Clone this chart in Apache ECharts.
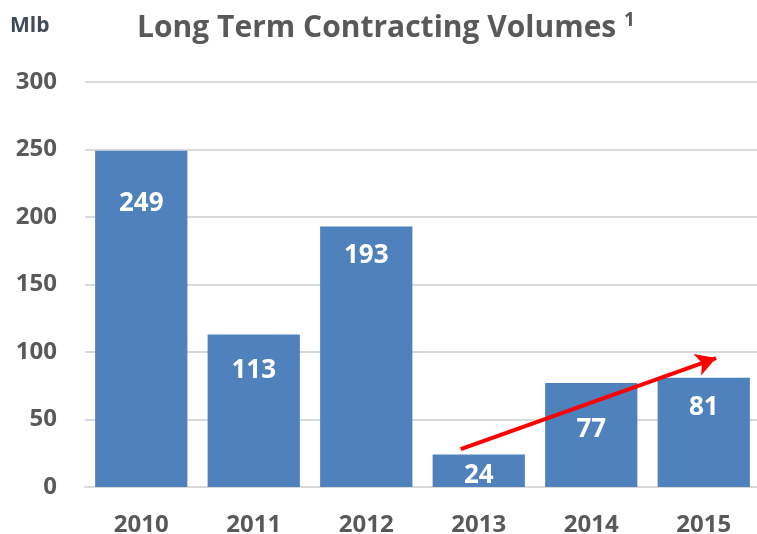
<!DOCTYPE html>
<html>
<head>
<meta charset="utf-8">
<script src="https://cdn.jsdelivr.net/npm/echarts@6/dist/echarts.min.js"></script>
<style>
  html, body { margin: 0; padding: 0; background: #fff; }
  #chart { width: 757px; height: 534px; }
</style>
</head>
<body>
<div id="chart"></div>
<script>
const years = ['2010', '2011', '2012', '2013', '2014', '2015']
const volumes = [249, 113, 193, 24, 77, 81]
const yTicks = { min: 0, max: 300, step: 50 }
// how far each value label sits below its bar top (it varies in the original)
const labelGaps = [40, 23, 16, 8, 34, 17]
// trend arrow, in (category position, Mlb)
const arrowFrom = [2.84, 28]
const arrowTo = [5.11, 95.5]

const myChart = echarts.init(document.getElementById('chart'))

const option = {
    backgroundColor: '#fff',
    animation: false,
    title: {
        text: 'Long Term Contracting Volumes {sup|1}',
        left: 381,
        textAlign: 'center',
        top: 6,
        textStyle: {
            fontFamily: 'Open Sans',
            fontSize: 30,
            fontWeight: 'bold',
            color: '#595959',
            rich: {
                sup: {
                    fontFamily: 'Open Sans',
                    fontSize: 19,
                    fontWeight: 'bold',
                    color: '#595959',
                    verticalAlign: 'top',
                    padding: [0, 0, 16, 0]
                }
            }
        }
    },
    graphic: [{
        type: 'text',
        left: 10,
        top: 16,
        style: {
            text: 'Mlb',
            font: 'bold 21px "Open Sans"',
            fill: '#3f4b58'
        }
    }],
    grid: { left: 85, right: -3, top: 82, bottom: 47, outerBoundsMode: 'none', containLabel: false },
    xAxis: [{
        type: 'category',
        data: years,
        axisTick: { show: false },
        axisLine: { lineStyle: { color: '#d9d9d9', width: 2 } },
        axisLabel: {
            fontFamily: 'Open Sans',
            fontSize: 24,
            fontWeight: 'bold',
            color: '#595959',
            margin: 26
        }
    }, {
        type: 'value',
        min: -0.5,
        max: 5.5,
        show: false
    }],
    yAxis: {
        type: 'value',
        min: yTicks.min,
        max: yTicks.max,
        interval: yTicks.step,
        axisLine: { show: false },
        axisTick: { show: false },
        splitLine: { lineStyle: { color: '#d9d9d9', width: 2 } },
        axisLabel: {
            fontFamily: 'Open Sans',
            fontSize: 24,
            fontWeight: 'bold',
            color: '#595959',
            margin: 28
        }
    },
    series: [{
        type: 'bar',
        data: volumes.map((v, i) => ({ value: v, label: { distance: labelGaps[i] } })),
        barCategoryGap: '18%',
        itemStyle: { color: '#4f81bd' },
        label: {
            show: true,
            position: 'insideTop',
            fontFamily: 'Open Sans',
            fontSize: 26,
            fontWeight: 'bold',
            color: '#fff'
        }
    }, {
        type: 'line',
        xAxisIndex: 1,
        data: [],
        markLine: {
            silent: true,
            symbol: ['none', 'arrow'],
            symbolSize: [17, 20],
            label: { show: false },
            lineStyle: { color: '#ff0000', width: 4, type: 'solid' },
            data: [[{ coord: arrowFrom }, { coord: arrowTo }]]
        }
    }]
}

myChart.setOption(option)
</script>
</body>
</html>
